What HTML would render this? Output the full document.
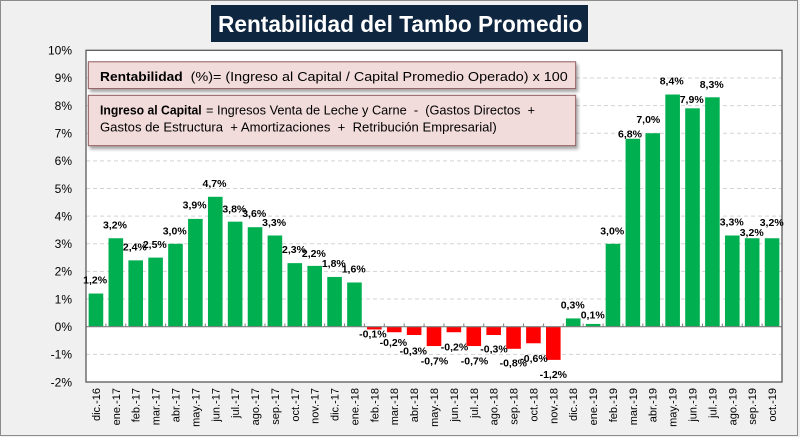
<!DOCTYPE html>
<html><head><meta charset="utf-8"><style>
html,body{margin:0;padding:0;background:#f0f0f0;}
svg{display:block;}
.yl{font-family:"Liberation Sans",sans-serif;font-size:12px;fill:#000;text-anchor:end;}
.xl{font-family:"Liberation Sans",sans-serif;font-size:11px;fill:#000;text-anchor:end;}
.dl{font-family:"Liberation Sans",sans-serif;font-size:10.5px;font-weight:bold;fill:#000;text-anchor:middle;}
.bt{font-family:"Liberation Sans",sans-serif;font-size:13px;fill:#000;}
.bb{font-family:"Liberation Sans",sans-serif;font-size:13px;font-weight:bold;fill:#000;}
</style></head><body>
<svg width="800" height="437" viewBox="0 0 800 437" xmlns="http://www.w3.org/2000/svg">
<defs>
<filter id="sh" x="-5%" y="-20%" width="110%" height="150%"><feDropShadow dx="2" dy="3" stdDeviation="1.5" flood-color="#000" flood-opacity="0.35"/></filter>
</defs>
<rect x="0" y="0" width="800" height="437" fill="#f0f0f0"/>
<rect x="0.5" y="0.5" width="797" height="435" fill="none" stroke="#8c8c8c" stroke-width="1"/>
<!-- plot area -->
<rect x="86" y="50.3" width="696" height="331.7" fill="#fff"/>
<g stroke="#d3d3d3" stroke-width="1" stroke-dasharray="4 3">
<line x1="86" x2="782" y1="77.94" y2="77.94"/>
<line x1="86" x2="782" y1="105.58" y2="105.58"/>
<line x1="86" x2="782" y1="133.22" y2="133.22"/>
<line x1="86" x2="782" y1="160.86" y2="160.86"/>
<line x1="86" x2="782" y1="188.5" y2="188.5"/>
<line x1="86" x2="782" y1="216.14" y2="216.14"/>
<line x1="86" x2="782" y1="243.78" y2="243.78"/>
<line x1="86" x2="782" y1="271.42" y2="271.42"/>
<line x1="86" x2="782" y1="299.06" y2="299.06"/>
<line x1="86" x2="782" y1="354.34" y2="354.34"/>
</g>
<!-- bars -->
<g fill="#00b050">
<rect x="88.64" y="293.53" width="14.6" height="33.17"/>
<rect x="108.53" y="238.25" width="14.6" height="88.45"/>
<rect x="128.41" y="260.36" width="14.6" height="66.34"/>
<rect x="148.30" y="257.6" width="14.6" height="69.1"/>
<rect x="168.19" y="243.78" width="14.6" height="82.92"/>
<rect x="188.07" y="218.9" width="14.6" height="107.8"/>
<rect x="207.96" y="196.79" width="14.6" height="129.91"/>
<rect x="227.84" y="221.67" width="14.6" height="105.03"/>
<rect x="247.73" y="227.2" width="14.6" height="99.5"/>
<rect x="267.61" y="235.49" width="14.6" height="91.21"/>
<rect x="287.50" y="263.13" width="14.6" height="63.57"/>
<rect x="307.39" y="265.89" width="14.6" height="60.81"/>
<rect x="327.27" y="276.95" width="14.6" height="49.75"/>
<rect x="347.16" y="282.48" width="14.6" height="44.22"/>
<rect x="565.90" y="318.41" width="14.6" height="8.29"/>
<rect x="585.79" y="323.94" width="14.6" height="2.76"/>
<rect x="605.67" y="243.78" width="14.6" height="82.92"/>
<rect x="625.56" y="138.75" width="14.6" height="187.95"/>
<rect x="645.44" y="133.22" width="14.6" height="193.48"/>
<rect x="665.33" y="94.52" width="14.6" height="232.18"/>
<rect x="685.21" y="108.34" width="14.6" height="218.36"/>
<rect x="705.10" y="97.29" width="14.6" height="229.41"/>
<rect x="724.99" y="235.49" width="14.6" height="91.21"/>
<rect x="744.87" y="238.25" width="14.6" height="88.45"/>
<rect x="764.76" y="238.25" width="14.6" height="88.45"/>
</g>
<g fill="#ff0000">
<rect x="367.04" y="326.7" width="14.6" height="2.76"/>
<rect x="386.93" y="326.7" width="14.6" height="5.53"/>
<rect x="406.81" y="326.7" width="14.6" height="8.29"/>
<rect x="426.70" y="326.7" width="14.6" height="19.35"/>
<rect x="446.59" y="326.7" width="14.6" height="5.53"/>
<rect x="466.47" y="326.7" width="14.6" height="19.35"/>
<rect x="486.36" y="326.7" width="14.6" height="8.29"/>
<rect x="506.24" y="326.7" width="14.6" height="22.11"/>
<rect x="526.13" y="326.7" width="14.6" height="16.58"/>
<rect x="546.01" y="326.7" width="14.6" height="33.17"/>
</g>
<!-- zero axis -->
<line x1="86" x2="782" y1="326.7" y2="326.7" stroke="#7f7f7f" stroke-width="1.2"/>
<g stroke="#7f7f7f" stroke-width="1">
<line x1="105.89" x2="105.89" y1="323.5" y2="326.7"/><line x1="125.77" x2="125.77" y1="323.5" y2="326.7"/><line x1="145.66" x2="145.66" y1="323.5" y2="326.7"/><line x1="165.54" x2="165.54" y1="323.5" y2="326.7"/><line x1="185.43" x2="185.43" y1="323.5" y2="326.7"/><line x1="205.31" x2="205.31" y1="323.5" y2="326.7"/><line x1="225.20" x2="225.20" y1="323.5" y2="326.7"/><line x1="245.09" x2="245.09" y1="323.5" y2="326.7"/><line x1="264.97" x2="264.97" y1="323.5" y2="326.7"/><line x1="284.86" x2="284.86" y1="323.5" y2="326.7"/><line x1="304.74" x2="304.74" y1="323.5" y2="326.7"/><line x1="324.63" x2="324.63" y1="323.5" y2="326.7"/><line x1="344.51" x2="344.51" y1="323.5" y2="326.7"/><line x1="364.40" x2="364.40" y1="323.5" y2="326.7"/><line x1="384.29" x2="384.29" y1="323.5" y2="326.7"/><line x1="404.17" x2="404.17" y1="323.5" y2="326.7"/><line x1="424.06" x2="424.06" y1="323.5" y2="326.7"/><line x1="443.94" x2="443.94" y1="323.5" y2="326.7"/><line x1="463.83" x2="463.83" y1="323.5" y2="326.7"/><line x1="483.71" x2="483.71" y1="323.5" y2="326.7"/><line x1="503.60" x2="503.60" y1="323.5" y2="326.7"/><line x1="523.49" x2="523.49" y1="323.5" y2="326.7"/><line x1="543.37" x2="543.37" y1="323.5" y2="326.7"/><line x1="563.26" x2="563.26" y1="323.5" y2="326.7"/><line x1="583.14" x2="583.14" y1="323.5" y2="326.7"/><line x1="603.03" x2="603.03" y1="323.5" y2="326.7"/><line x1="622.91" x2="622.91" y1="323.5" y2="326.7"/><line x1="642.80" x2="642.80" y1="323.5" y2="326.7"/><line x1="662.69" x2="662.69" y1="323.5" y2="326.7"/><line x1="682.57" x2="682.57" y1="323.5" y2="326.7"/><line x1="702.46" x2="702.46" y1="323.5" y2="326.7"/><line x1="722.34" x2="722.34" y1="323.5" y2="326.7"/><line x1="742.23" x2="742.23" y1="323.5" y2="326.7"/><line x1="762.11" x2="762.11" y1="323.5" y2="326.7"/>
</g>
<rect x="86" y="50.3" width="696" height="331.7" fill="none" stroke="#595959" stroke-width="1.3"/>
<!-- y labels -->
<text class="yl" x="72" y="54.6">10%</text>
<text class="yl" x="72" y="82.2">9%</text>
<text class="yl" x="72" y="109.9">8%</text>
<text class="yl" x="72" y="137.5">7%</text>
<text class="yl" x="72" y="165.2">6%</text>
<text class="yl" x="72" y="192.8">5%</text>
<text class="yl" x="72" y="220.4">4%</text>
<text class="yl" x="72" y="248.1">3%</text>
<text class="yl" x="72" y="275.7">2%</text>
<text class="yl" x="72" y="303.4">1%</text>
<text class="yl" x="72" y="331.0">0%</text>
<text class="yl" x="72" y="358.6">-1%</text>
<text class="yl" x="72" y="386.3">-2%</text>
<!-- x labels -->
<g class="xl">
<text transform="translate(99.9,388) rotate(-90)">dic.-16</text>
<text transform="translate(119.8,388) rotate(-90)">ene.-17</text>
<text transform="translate(139.7,388) rotate(-90)">feb.-17</text>
<text transform="translate(159.6,388) rotate(-90)">mar.-17</text>
<text transform="translate(179.5,388) rotate(-90)">abr.-17</text>
<text transform="translate(199.4,388) rotate(-90)">may.-17</text>
<text transform="translate(219.3,388) rotate(-90)">jun.-17</text>
<text transform="translate(239.1,388) rotate(-90)">jul.-17</text>
<text transform="translate(259.0,388) rotate(-90)">ago.-17</text>
<text transform="translate(278.9,388) rotate(-90)">sep.-17</text>
<text transform="translate(298.8,388) rotate(-90)">oct.-17</text>
<text transform="translate(318.7,388) rotate(-90)">nov.-17</text>
<text transform="translate(338.6,388) rotate(-90)">dic.-17</text>
<text transform="translate(358.5,388) rotate(-90)">ene.-18</text>
<text transform="translate(378.3,388) rotate(-90)">feb.-18</text>
<text transform="translate(398.2,388) rotate(-90)">mar.-18</text>
<text transform="translate(418.1,388) rotate(-90)">abr.-18</text>
<text transform="translate(438.0,388) rotate(-90)">may.-18</text>
<text transform="translate(457.9,388) rotate(-90)">jun.-18</text>
<text transform="translate(477.8,388) rotate(-90)">jul.-18</text>
<text transform="translate(497.7,388) rotate(-90)">ago.-18</text>
<text transform="translate(517.5,388) rotate(-90)">sep.-18</text>
<text transform="translate(537.4,388) rotate(-90)">oct.-18</text>
<text transform="translate(557.3,388) rotate(-90)">nov.-18</text>
<text transform="translate(577.2,388) rotate(-90)">dic.-18</text>
<text transform="translate(597.1,388) rotate(-90)">ene.-19</text>
<text transform="translate(617.0,388) rotate(-90)">feb.-19</text>
<text transform="translate(636.9,388) rotate(-90)">mar.-19</text>
<text transform="translate(656.7,388) rotate(-90)">abr.-19</text>
<text transform="translate(676.6,388) rotate(-90)">may.-19</text>
<text transform="translate(696.5,388) rotate(-90)">jun.-19</text>
<text transform="translate(716.4,388) rotate(-90)">jul.-19</text>
<text transform="translate(736.3,388) rotate(-90)">ago.-19</text>
<text transform="translate(756.2,388) rotate(-90)">sep.-19</text>
<text transform="translate(776.1,388) rotate(-90)">oct.-19</text>
</g>
<!-- data labels -->
<g class="dl">
<text x="95.1" y="283.7">1,2%</text>
<text x="115.0" y="228.7">3,2%</text>
<text x="134.9" y="250.4">2,4%</text>
<text x="154.8" y="248.0">2,5%</text>
<text x="174.7" y="234.4">3,0%</text>
<text x="194.6" y="208.7">3,9%</text>
<text x="214.5" y="187.0">4,7%</text>
<text x="234.3" y="212.7">3,8%</text>
<text x="254.2" y="217.0">3,6%</text>
<text x="274.1" y="226.0">3,3%</text>
<text x="294.0" y="253.0">2,3%</text>
<text x="313.9" y="257.0">2,2%</text>
<text x="333.8" y="267.0">1,8%</text>
<text x="353.7" y="272.7">1,6%</text>
<text x="372.9" y="337.7">-0,1%</text>
<text x="393.4" y="346.0">-0,2%</text>
<text x="413.3" y="354.4">-0,3%</text>
<text x="434.5" y="364.4">-0,7%</text>
<text x="454.5" y="350.4">-0,2%</text>
<text x="474.5" y="364.4">-0,7%</text>
<text x="494.0" y="352.7">-0,3%</text>
<text x="513.3" y="366.4">-0,8%</text>
<text x="534.0" y="362.0">-0,6%</text>
<text x="553.3" y="378.0">-1,2%</text>
<text x="572.7" y="308.7">0,3%</text>
<text x="592.7" y="318.7">0,1%</text>
<text x="612.2" y="234.7">3,0%</text>
<text x="630.0" y="137.7">6,8%</text>
<text x="648.3" y="123.0">7,0%</text>
<text x="671.7" y="84.7">8,4%</text>
<text x="691.7" y="103.0">7,9%</text>
<text x="711.7" y="88.0">8,3%</text>
<text x="731.7" y="225.4">3,3%</text>
<text x="751.7" y="236.0">3,2%</text>
<text x="771.7" y="226.0">3,2%</text>
</g>
<!-- info boxes -->
<rect x="88.3" y="61.8" width="487.4" height="26.8" fill="#f2dcdb" stroke="#8c5a5a" stroke-width="1" filter="url(#sh)"/>
<text class="bb" x="100" y="81" textLength="82.7" lengthAdjust="spacingAndGlyphs">Rentabilidad</text>
<text class="bt" x="190.7" y="81" textLength="377" lengthAdjust="spacingAndGlyphs">(%)= (Ingreso al Capital / Capital Promedio Operado) x 100</text>
<rect x="88.3" y="95.3" width="487.4" height="50.4" fill="#f2dcdb" stroke="#8c5a5a" stroke-width="1" filter="url(#sh)"/>
<text class="bb" x="100" y="114.3" textLength="101.7" lengthAdjust="spacingAndGlyphs">Ingreso al Capital</text>
<text class="bt" x="206" y="114.3" textLength="329" lengthAdjust="spacingAndGlyphs" xml:space="preserve">= Ingresos Venta de Leche y Carne  -  (Gastos Directos  +</text>
<text class="bt" x="100" y="131.6" textLength="396.7" lengthAdjust="spacingAndGlyphs" xml:space="preserve">Gastos de Estructura  + Amortizaciones  +  Retribución Empresarial)</text>
<!-- title -->
<rect x="211" y="5" width="377" height="37" fill="#0f2641"/>
<text x="218" y="32" font-family="Liberation Sans, sans-serif" font-size="23" font-weight="bold" fill="#ffffff" textLength="364.5" lengthAdjust="spacingAndGlyphs">Rentabilidad del Tambo Promedio</text>
</svg>
</body></html>
